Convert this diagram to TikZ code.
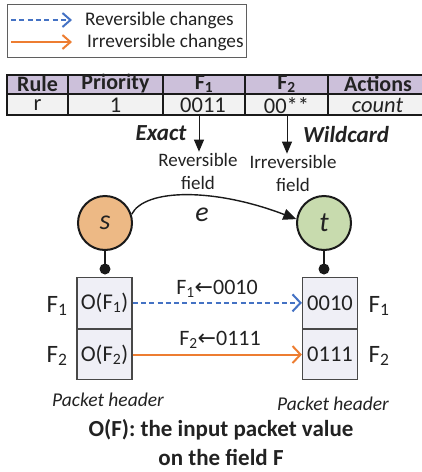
\documentclass[tikz,border=0pt]{standalone}
\usepackage{fontspec}
\setmainfont{Carlito}
\newfontfamily\symfont{DejaVu Sans}
\usetikzlibrary{arrows.meta}

\definecolor{hdr}{HTML}{CCC0DA}
\definecolor{rowbg}{HTML}{F2F2F2}
\definecolor{boxbg}{HTML}{EFEFF6}
\definecolor{revblue}{HTML}{4472C4}
\definecolor{irrorange}{HTML}{ED7D31}
\definecolor{sfill}{HTML}{EDB985}
\definecolor{tfill}{HTML}{C8DBAE}
\definecolor{ink}{HTML}{222222}
\definecolor{rule}{HTML}{1A1A1A}

\newcommand{\fsz}[1]{\fontsize{#1}{#1}\selectfont}
\newcommand{\larr}{{\symfont\char"2190}}

\tikzset{
  txt/.style={inner sep=1pt, text=ink},
  cell/.style={inner sep=0pt, text=ink},
  legrev/.style={revblue, line width=2pt, dash pattern=on 5pt off 3.3pt,
    -{Straight Barb[length=8pt,width=14pt]}},
  legirr/.style={irrorange, line width=2pt,
    -{Straight Barb[length=8pt,width=14pt]}},
  revarrow/.style={revblue, line width=2pt, dash pattern=on 5pt off 3.3pt,
    -{Straight Barb[length=8pt,width=17pt]}},
  irrarrow/.style={irrorange, line width=2pt,
    -{Straight Barb[length=8pt,width=17pt]}},
  down/.style={rule, line width=1pt, -{Triangle[length=12pt,width=10pt]}},
  vertex/.style={circle, draw=rule, line width=2pt, minimum size=54pt,
    inner sep=0pt, font=\fsz{28}\itshape, text=ink},
  pbox/.style={draw=rule!80, line width=1.2pt, fill=boxbg, minimum width=55pt,
    minimum height=50.5pt, inner sep=0pt, font=\fsz{22.5}, text=ink},
  pin/.style={circle, fill=rule, inner sep=0pt, minimum size=11pt},
  stem/.style={rule, line width=2pt},
}

\begin{document}
\begin{tikzpicture}[x=1pt,y=-1pt]
\useasboundingbox (0,0) rectangle (422,472);

% legend
\draw[rule!70, line width=1pt] (7,4) rectangle (246,57);
\coordinate (lga) at (11,20);
\coordinate (lgb) at (72,20);
\coordinate (lgc) at (11,42);
\coordinate (lgd) at (72,42);
\draw[legrev] (lga) -- (lgb);
\draw[legirr] (lgc) -- (lgd);
\node[txt, anchor=west, font=\fsz{19.3}] (lrev) at (84,20) {Reversible changes};
\node[txt, anchor=west, font=\fsz{19.3}] (lirr) at (86,42) {Irreversible changes};

% flow table
\fill[hdr] (7,75) rectangle (430,94);
\fill[rowbg] (7,94) rectangle (430,115);
\draw[rule, line width=2.2pt] (7,75) rectangle (430,115);
\draw[rule, line width=2pt] (7,94) -- (430,94);
\foreach \cx in {68,163,245,328}
  \draw[rule, line width=2pt] (\cx,75) -- (\cx,115);

\node[cell, font=\fsz{22}\bfseries] (hrule) at (37.5,83.5) {Rule};
\node[cell, font=\fsz{22}\bfseries] (hprio) at (115.5,83.5) {Priority};
\node[cell, font=\fsz{22}\bfseries] (hfa) at (204,83.5) {F\textsubscript{1}};
\node[cell, font=\fsz{22}\bfseries] (hfb) at (286.5,83.5) {F\textsubscript{2}};
\node[cell, font=\fsz{22}\bfseries] (hact) at (378,83.5) {Actions};

\node[cell, font=\fsz{22.5}] (vrule) at (37.5,105.5) {r};
\node[cell, font=\fsz{22.5}] (vprio) at (115.5,105.5) {1};
\node[cell, font=\fsz{22.5}] (vfa) at (203,105.5) {0011};
\node[cell, font=\fsz{22.5}] (vfb) at (286.5,105.5) {00**};
\node[cell, font=\fsz{22.5}\itshape] (vact) at (377.5,105.5) {count};

% match types
\coordinate (fa0) at (199,116);
\coordinate (fb0) at (287,116);
\node[txt, font=\fsz{23}\bfseries\itshape] (exact) at (161,133) {Exact};
\node[txt, font=\fsz{23}\bfseries\itshape] (wild) at (346,135) {Wildcard};
\node[txt, font=\fsz{19}] (revl) at (198,159.5) {Reversible};
\node[txt, font=\fsz{19}] (revf) at (198,183) {field};
\node[txt, font=\fsz{19}] (irrl) at (293,161.5) {Irreversible};
\node[txt, font=\fsz{19}] (irrf) at (293,185) {field};
\draw[down] (fa0) -- (revl.north -| fa0);
\draw[down] (fb0) -- (irrl.north -| fb0);

% switches and link
\node[vertex, fill=sfill] (s) at (105,223) {s};
\node[vertex, fill=tfill] (t) at (324,223) {t};
\draw[rule, line width=1.4pt, -{Triangle[length=13pt,width=11pt]}]
  (s.18) .. controls (145,188) and (215,188) .. (t.172);
\node[txt, font=\fsz{28}\itshape] (e) at (202,215) {e};

% packet headers
\node[pin] (sp) at (105,269) {};
\node[pin] (tp) at (324,269) {};
\draw[stem] (s.south) -- (sp.center);
\draw[stem] (t.south) -- (tp.center);

\node[pbox, anchor=north] (la) at (104.5,277) {O(F\textsubscript{1})};
\node[pbox, anchor=north] (lb) at (la.south) {O(F\textsubscript{2})};
\node[pbox, anchor=north] (ra) at (330,277) {0010};
\node[pbox, anchor=north] (rb) at (ra.south) {0111};

\node[txt, font=\fsz{25}] (lfa) at (57,306) {F\textsubscript{1}};
\node[txt, font=\fsz{25}] (lfb) at (57,356) {F\textsubscript{2}};
\node[txt, font=\fsz{25}] (rfa) at (379,306) {F\textsubscript{1}};
\node[txt, font=\fsz{25}] (rfb) at (379,356) {F\textsubscript{2}};

\draw[revarrow] (la.east) -- (ra.west);
\draw[irrarrow] (lb.east) -- (rb.west);
\node[txt, font=\fsz{22}] (seta) at (217,289) {F\textsubscript{1}\larr0010};
\node[txt, font=\fsz{22}] (setb) at (220,340) {F\textsubscript{2}\larr0111};

\node[txt, font=\fsz{19.5}\itshape] (lph) at (108,400) {Packet header};
\node[txt, font=\fsz{19.5}\itshape] (rph) at (333,404) {Packet header};

\node[txt, font=\fsz{23}\bfseries] (note1) at (221,430) {O(F): the input packet value};
\node[txt, font=\fsz{23}\bfseries] (note2) at (221,457) {on the field F};
\end{tikzpicture}
\end{document}
